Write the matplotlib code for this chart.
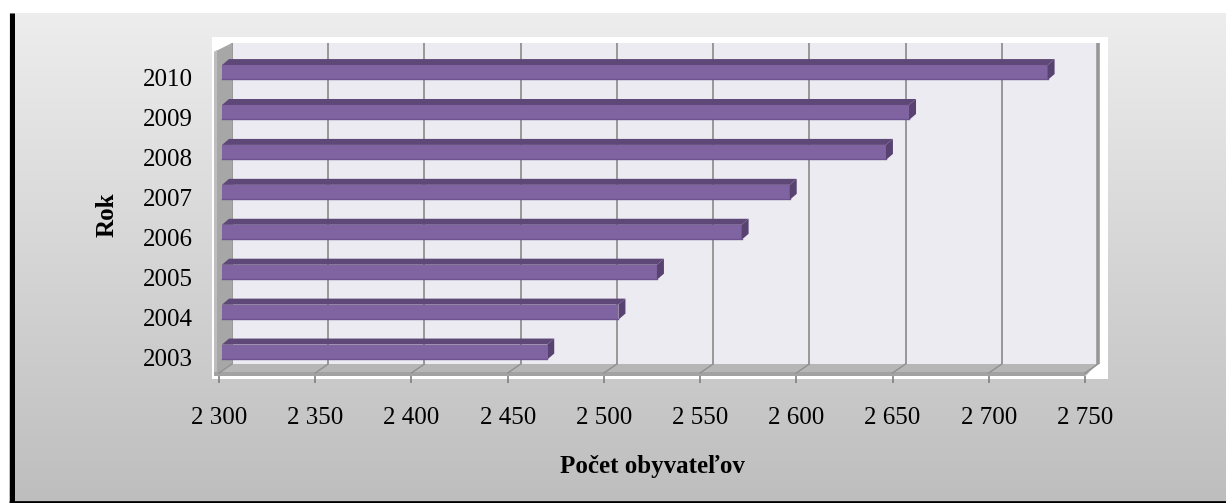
import numpy as np
import matplotlib
matplotlib.use('Agg')
import matplotlib.pyplot as plt
from matplotlib.patches import Polygon, Rectangle
from matplotlib.transforms import ScaledTranslation

# data
roky = ['2003', '2004', '2005', '2006', '2007', '2008', '2009', '2010']
obyvatelia = [2469, 2506, 2526, 2570, 2595, 2645, 2657, 2729]
x_ticks = [2300, 2350, 2400, 2450, 2500, 2550, 2600, 2650, 2700, 2750]
x_tick_labels = ['2 300', '2 350', '2 400', '2 450', '2 500', '2 550',
                 '2 600', '2 650', '2 700', '2 750']

W, H, DPI = 1226, 503, 100
serif = ['Liberation Serif', 'DejaVu Serif']

fig = plt.figure(figsize=(W / DPI, H / DPI), dpi=DPI)
fig.patch.set_facecolor('white')

def fx(px):
    return px / W

def fy(py):
    return 1 - py / H

# background of the chart area (gray gradient, black border left/bottom)
bg = fig.add_axes([0, 0, 1, 1])
bg.set_xlim(0, W)
bg.set_ylim(H, 0)
bg.axis('off')
t = np.linspace(0, 1, 256)[:, None, None]
top_c = np.array([0.93, 0.93, 0.93])
bot_c = np.array([0.745, 0.745, 0.745])
img = top_c + (bot_c - top_c) * t
bg.imshow(img, extent=(9, W, 501, 13), aspect='auto', interpolation='bilinear')
bg.plot([11.5, 11.5], [13, H], color='black', lw=3.6, solid_capstyle='butt')
bg.plot([9, W], [501.5, 501.5], color='black', lw=2.0, solid_capstyle='butt')
bg.add_patch(Rectangle((212, 37), 896, 342, facecolor='white', edgecolor='none'))

# main axes
ax = fig.add_axes([fx(219), fy(376), (1085 - 219) / W, (376 - 55) / H])
ax.set_xlim(2300, 2750)
ax.set_ylim(-0.6, 7.44)
ax.patch.set_visible(False)
for s in ax.spines.values():
    s.set_visible(False)

# pixels per data unit, to build the 3d-ish depth
p0 = ax.transData.transform((2300, 0))
p1 = ax.transData.transform((2350, 1))
ux = (p1[0] - p0[0]) / 50.0
uy = p1[1] - p0[1]
bx, by = 13 / ux, 12 / uy          # depth of the plot box
y0, y1 = ax.get_ylim()
x0, x1 = ax.get_xlim()

# back wall + gridlines
ax.add_patch(Rectangle((x0 + bx, y0 + by), x1 - x0, y1 - y0,
                       facecolor='#edebf2', edgecolor='none', clip_on=False, zorder=1))
for x in x_ticks:
    lw = 2.6 if x == x1 else 1.4
    ax.plot([x + bx, x + bx], [y0 + by, y1 + by], color='#979797', lw=lw,
            clip_on=False, zorder=2, solid_capstyle='butt')

# left wall
wx = 5 / ux
ax.add_patch(Polygon([(x0 - wx, y0), (x0 - wx, y1 + 3 / uy), (x0 + bx, y1 + by), (x0 + bx, y0 + by)],
                     closed=True, facecolor='#a7a7a7', edgecolor='none', clip_on=False, zorder=3))
ax.add_patch(Polygon([(x0 - wx, y0), (x0 - wx, y1 + 3 / uy), (x0 - wx + 3 / ux, y1 + 5 / uy),
                      (x0 - wx + 3 / ux, y0)],
                     closed=True, facecolor='#bdbdbd', edgecolor='none', clip_on=False, zorder=3))

# floor
ax.add_patch(Polygon([(x0 - wx, y0), (x1, y0), (x1 + bx, y0 + by), (x0 + bx, y0 + by)],
                     closed=True, facecolor='#b6b6b6', edgecolor='none', clip_on=False, zorder=3))
ax.add_patch(Polygon([(x0 - wx, y0), (x1, y0), (x1 + 4 / ux, y0 + 4 / uy), (x0 - wx, y0 + 4 / uy)],
                     closed=True, facecolor='#a2a2a2', edgecolor='none', clip_on=False, zorder=3))
for x in x_ticks:
    ax.plot([x, x + bx], [y0 + 3 / uy, y0 + by], color='#909090', lw=1.0,
            clip_on=False, zorder=3)

# bars
fo = 3 / ux
dx, dy = 7 / ux, 6 / uy
h = 15 / uy
for i, v in enumerate(obyvatelia):
    yb, yt = i - h / 2, i + h / 2
    ax.add_patch(Rectangle((x0 + fo, yb), v - x0, h, facecolor='#8064a2',
                           edgecolor='none', clip_on=False, zorder=5))
    ax.plot([x0 + fo, v + fo], [yb + 0.6 / uy, yb + 0.6 / uy], color='#6c5490', lw=1.0,
            clip_on=False, zorder=6)
    ax.add_patch(Polygon([(x0 + fo, yt), (v + fo, yt), (v + fo + dx, yt + dy), (x0 + fo + dx, yt + dy)],
                         closed=True, facecolor='#5e4878', edgecolor='none', clip_on=False, zorder=5))
    ax.add_patch(Polygon([(v + fo, yb), (v + fo + dx, yb + dy), (v + fo + dx, yt + dy), (v + fo, yt)],
                         closed=True, facecolor='#574270', edgecolor='none', clip_on=False, zorder=5))

# ticks and labels
ax.set_xticks(x_ticks)
ax.set_xticklabels(x_tick_labels, fontsize=18, family=serif)
ax.tick_params(axis='x', length=5, width=1.2, color='#808080', pad=17)
ax.set_yticks(range(len(roky)))
ax.set_yticklabels(roky, fontsize=18, family=serif)
ax.tick_params(axis='y', length=0, pad=19)
shift = ScaledTranslation(0, -0.05, fig.dpi_scale_trans)
for lab in ax.get_yticklabels():
    lab.set_transform(lab.get_transform() + shift)

fig.text(fx(107), fy(215), 'Rok', rotation=90, ha='center', va='center',
         fontsize=18, fontweight='bold', family=serif)
fig.text(fx(652), fy(467), 'Počet obyvateľov', ha='center', va='center',
         fontsize=18, fontweight='bold', family=serif)

fig.savefig('out.png', dpi=DPI)
